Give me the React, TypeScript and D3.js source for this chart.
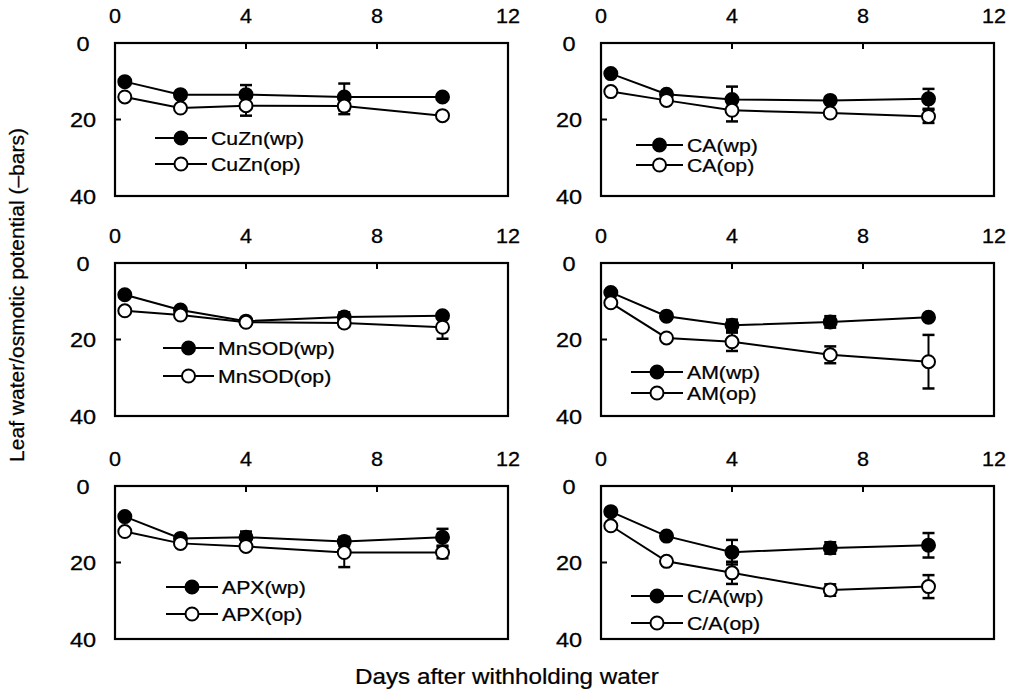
import React, { useRef, useEffect } from 'react';
import * as d3 from 'd3';

// data
const days = [0.3, 2, 4, 7, 10];
const panelNames = ['CuZn', 'CA', 'MnSOD', 'AM', 'APX', 'C/A'];
const xTicks = [0, 4, 8, 12];
const yTicks = [0, 20, 40];

const wpMeans = [
  [10.1, 13.5, 13.5, 14.1, 14.1],
  [8.0, 13.4, 14.8, 15.0, 14.6],
  [8.3, 12.3, 15.2, 14.1, 13.8],
  [7.7, 13.9, 16.3, 15.4, 14.2],
  [8.0, 13.7, 13.4, 14.5, 13.4],
  [6.7, 13.1, 17.3, 16.2, 15.5],
];
const wpErr = [
  [0, 0, 2.5, 3.5, 0],
  [0, 0, 3.4, 0, 2.6],
  [0, 0, 0, 1.2, 0],
  [0, 0, 1.5, 1.5, 0],
  [0, 0, 1.5, 1.2, 2.2],
  [0, 0, 3.2, 1.5, 3.2],
];
const opMeans = [
  [14.1, 17.0, 16.4, 16.5, 19.0],
  [12.7, 15.0, 17.6, 18.3, 19.2],
  [12.5, 13.6, 15.5, 15.7, 16.8],
  [10.4, 19.6, 20.6, 24.0, 25.8],
  [11.9, 15.0, 15.8, 17.4, 17.4],
  [10.4, 19.7, 22.7, 27.2, 26.3],
];
const opErr = [
  [0, 0, 2.6, 2.1, 0],
  [0, 0, 2.9, 0, 1.7],
  [0, 0, 0, 1.0, 3.0],
  [0, 0, 2.4, 2.2, 7.0],
  [0, 0, 0, 3.8, 1.5],
  [0, 0, 2.9, 1.5, 3.0],
];

// layout: box origin per panel and legend position inside each box
const colX = [115, 601];
const rowY = [43, 263, 486];
const boxW = 393;
const boxH = 153;
const legendPos = [
  { x: 40, y: 95, gap: 26, len: 52 },
  { x: 35, y: 102, gap: 20, len: 47 },
  { x: 48, y: 85, gap: 28, len: 51 },
  { x: 30, y: 109, gap: 21, len: 52 },
  { x: 51, y: 101, gap: 27, len: 52 },
  { x: 30, y: 110, gap: 27, len: 52 },
];

const FONT = 'Liberation Sans, Arial, Helvetica, sans-serif';

const App = () => {
  const ref = useRef<HTMLDivElement>(null);

  useEffect(() => {
    document.body.style.margin = '0';
    const width = 1010;
    const height = 689;
    const root = d3.select(ref.current);
    root.selectAll('*').remove();
    const svg = root
      .append('svg')
      .attr('width', width)
      .attr('height', height)
      .style('display', 'block')
      .style('background', '#fff')
      .attr('font-family', FONT);

    const x = d3.scaleLinear().domain([0, 12]).range([0, boxW]);
    const y = d3.scaleLinear().domain([0, 40]).range([0, boxH]);
    const r = 6.5;

    panelNames.forEach((name, pi) => {
      const ox = colX[pi % 2];
      const oy = rowY[Math.floor(pi / 2)];
      const g = svg.append('g').attr('transform', `translate(${ox},${oy})`);

      // frame
      g.append('rect')
        .attr('width', boxW)
        .attr('height', boxH)
        .attr('fill', 'none')
        .attr('stroke', '#000')
        .attr('stroke-width', 2.2);

      // inward ticks
      [4, 8].forEach(t => {
        g.append('line')
          .attr('x1', x(t)).attr('x2', x(t))
          .attr('y1', 0).attr('y2', 6)
          .attr('stroke', '#000').attr('stroke-width', 2);
      });
      g.append('line')
        .attr('x1', 0).attr('x2', 6)
        .attr('y1', y(20)).attr('y2', y(20))
        .attr('stroke', '#000').attr('stroke-width', 2);

      // tick labels on top
      g.selectAll('text.xt')
        .data(xTicks)
        .join('text')
        .attr('class', 'xt')
        .attr('transform', d => `translate(${x(d)},${-20}) scale(1.08,1)`)
        .attr('text-anchor', 'middle')
        .attr('font-size', 20)
        .attr('stroke', '#000').attr('stroke-width', 0.3)
        .text(d => d);

      g.selectAll('text.yt')
        .data(yTicks)
        .join('text')
        .attr('class', 'yt')
        .attr('transform', d => `translate(${-32},${y(d) + 7.5}) scale(1.12,1)`)
        .attr('text-anchor', 'middle')
        .attr('font-size', 21)
        .attr('stroke', '#000').attr('stroke-width', 0.3)
        .text(d => d);

      const series = [
        { means: wpMeans[pi], err: wpErr[pi], fill: '#000', key: 'wp' },
        { means: opMeans[pi], err: opErr[pi], fill: '#fff', key: 'op' },
      ];

      const lineGen = d3.line<number>()
        .x((d, i) => x(days[i]))
        .y(d => y(d));

      series.forEach(s => {
        g.append('path')
          .attr('d', lineGen(s.means))
          .attr('fill', 'none')
          .attr('stroke', '#000')
          .attr('stroke-width', 2);
      });

      series.forEach(s => {
        s.means.forEach((m, i) => {
          const e = s.err[i];
          if (!e) return;
          const cx = x(days[i]);
          g.append('line')
            .attr('x1', cx).attr('x2', cx)
            .attr('y1', y(m - e)).attr('y2', y(m + e))
            .attr('stroke', '#000').attr('stroke-width', 2);
          [m - e, m + e].forEach(v => {
            g.append('line')
              .attr('x1', cx - 6).attr('x2', cx + 6)
              .attr('y1', y(v)).attr('y2', y(v))
              .attr('stroke', '#000').attr('stroke-width', 2.5);
          });
        });
        g.selectAll(`circle.${s.key}`)
          .data(s.means)
          .join('circle')
          .attr('class', s.key)
          .attr('cx', (d, i) => x(days[i]))
          .attr('cy', d => y(d))
          .attr('r', r)
          .attr('fill', s.fill)
          .attr('stroke', '#000')
          .attr('stroke-width', 2);
      });

      // legend
      const lp = legendPos[pi];
      series.forEach((s, si) => {
        const ly = lp.y + si * lp.gap;
        const lg = g.append('g').attr('transform', `translate(${lp.x},${ly})`);
        lg.append('line')
          .attr('x1', 0).attr('x2', lp.len)
          .attr('y1', 0).attr('y2', 0)
          .attr('stroke', '#000').attr('stroke-width', 2);
        lg.append('circle')
          .attr('cx', lp.len / 2).attr('cy', 0).attr('r', r)
          .attr('fill', s.fill).attr('stroke', '#000').attr('stroke-width', 2);
        lg.append('text')
          .attr('transform', `translate(${lp.len + 4},6.5) scale(1.18,1)`)
          .attr('font-size', 18)
          .attr('stroke', '#000').attr('stroke-width', 0.25)
          .text(`${name}(${s.key})`);
      });
    });

    // axis titles
    svg.append('text')
      .attr('transform', 'translate(24,295) rotate(-90)')
      .attr('text-anchor', 'middle')
      .attr('font-size', 21)
      .attr('stroke', '#000').attr('stroke-width', 0.25)
      .text('Leaf water/osmotic potential (\u2013bars)');

    svg.append('text')
      .attr('transform', 'translate(507,684) scale(1.1,1)')
      .attr('text-anchor', 'middle')
      .attr('font-size', 22)
      .attr('stroke', '#000').attr('stroke-width', 0.25)
      .text('Days after withholding water');
  }, []);

  return <div ref={ref} />;
};

export default App;
